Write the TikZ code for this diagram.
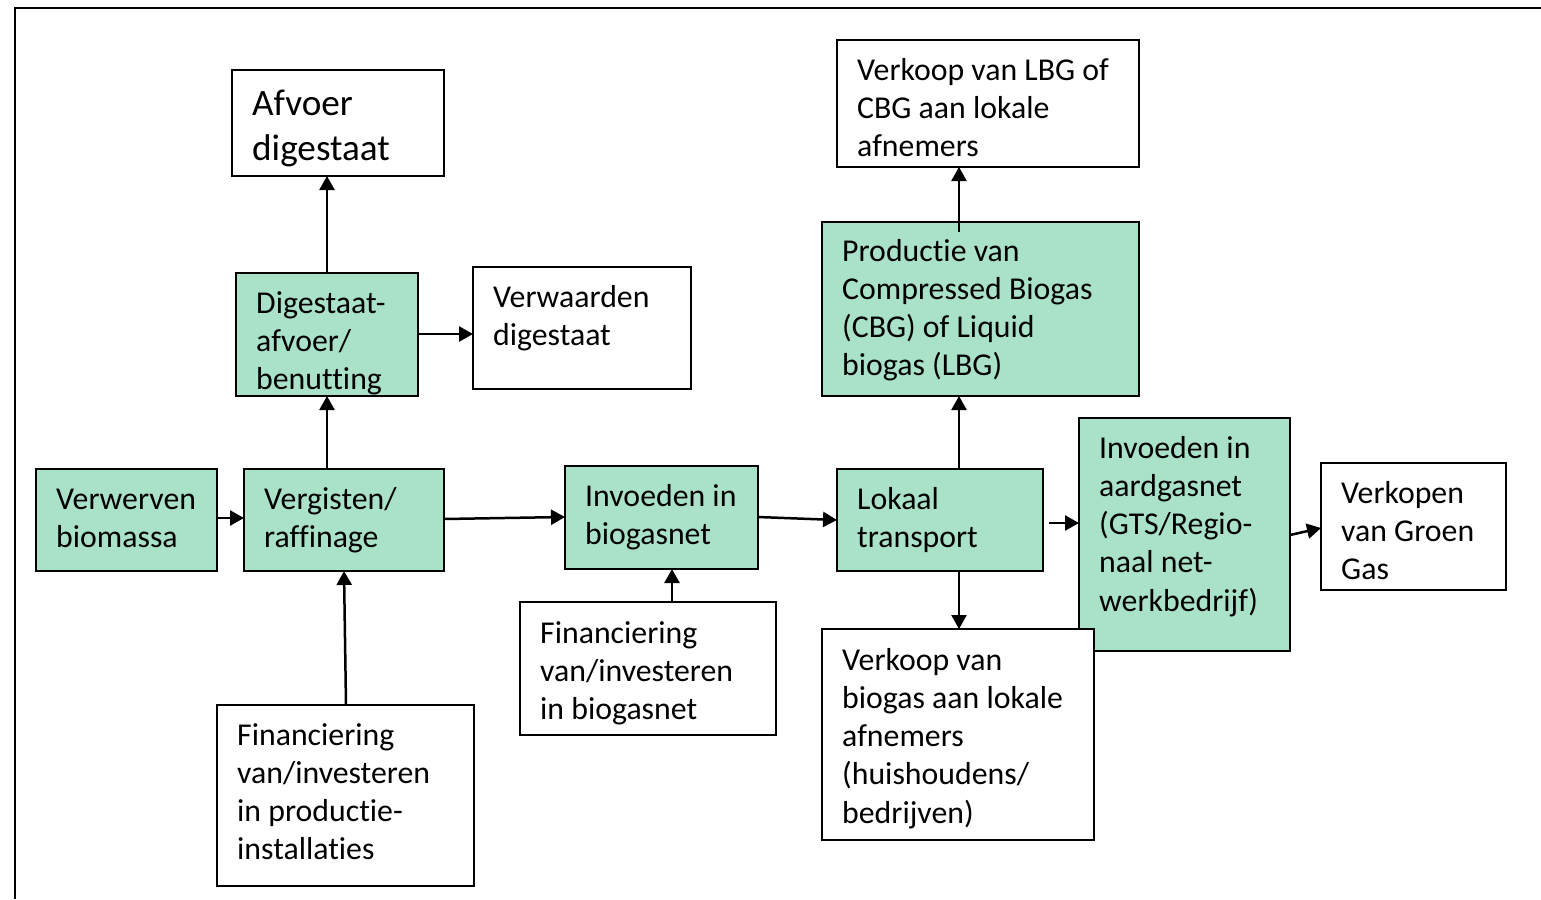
\documentclass[tikz,border=0pt]{standalone}
\usepackage{fontspec}
\setmainfont{Carlito}[Ligatures={NoCommon,TeX}]
\usetikzlibrary{arrows.meta,calc}
\definecolor{mint}{RGB}{170,226,201}
\tikzset{
  bx/.style={draw=black, line width=2pt, inner sep=0pt, outer sep=0pt, anchor=north west},
  gbx/.style={bx, fill=mint},
  wbx/.style={bx, fill=white},
  txt/.style={anchor=base west, inner sep=0pt, font=\fontsize{31.8}{38.3}\selectfont},
  bigtxt/.style={anchor=base west, inner sep=0pt, font=\fontsize{37.2}{45}\selectfont},
  arr/.style={line width=2.5pt, -{Triangle[length=14pt,width=15pt]}},
  frame/.style={line width=2pt}
}
\newcommand\lines[1]{\parbox[t]{400pt}{\raggedright #1}}
\begin{document}
\begin{tikzpicture}[x=1pt,y=-1pt]
\useasboundingbox (0,0) rectangle (1541,899);
\fill[white] (0,0) rectangle (1541,899);
% frame
\coordinate (ftl) at (15,8);
\coordinate (ftr) at (1541,8);
\coordinate (fbl) at (15,899);
\draw[frame] (14,8) -- (ftr);
\draw[frame] (ftl) -- (fbl);

% boxes
\node[wbx, minimum width=212, minimum height=106] (afv) at (232,70) {};
\node[gbx, minimum width=182, minimum height=123] (dig) at (236,273) {};
\node[wbx, minimum width=218, minimum height=122] (verw) at (473,267) {};
\node[wbx, minimum width=302, minimum height=127] (lbg) at (837,40) {};
\node[gbx, minimum width=317, minimum height=174] (prod) at (822,222) {};
\node[gbx, minimum width=181, minimum height=102] (bio) at (36,469) {};
\node[gbx, minimum width=200, minimum height=102] (verg) at (244,469) {};
\node[gbx, minimum width=193, minimum height=103] (invb) at (565,466) {};
\node[gbx, minimum width=206, minimum height=102] (lok) at (837,469) {};
\node[gbx, minimum width=211, minimum height=233] (aard) at (1079,418) {};
\node[wbx, minimum width=185, minimum height=127] (groen) at (1321,463) {};
\node[wbx, minimum width=256, minimum height=133] (finb) at (520,602) {};
\node[wbx, minimum width=272, minimum height=211] (verkb) at (822,629) {};
\node[wbx, minimum width=257, minimum height=181] (finp) at (217,705) {};

% texts
\node[bigtxt] (afvt) at ($(afv.north west)+(20,45)$) {\lines{Afvoer\\digestaat}};
\node[txt] (digt) at ($(dig.north west)+(20,40)$) {\lines{Digestaat-\\afvoer/\\benutting}};
\node[txt] (verwt) at ($(verw.north west)+(20,40)$) {\lines{Verwaarden\\digestaat}};
\node[txt] (lbgt) at ($(lbg.north west)+(20,40)$) {\lines{Verkoop van LBG of\\CBG aan lokale\\afnemers}};
\node[txt] (prodt) at ($(prod.north west)+(20,39)$) {\lines{Productie van\\Compressed Biogas\\(CBG) of Liquid\\biogas (LBG)}};
\node[txt] (biot) at ($(bio.north west)+(20,40)$) {\lines{Verwerven\\biomassa}};
\node[txt] (vergt) at ($(verg.north west)+(20,40)$) {\lines{Vergisten/\\raffinage}};
\node[txt] (invbt) at ($(invb.north west)+(20,40)$) {\lines{Invoeden in\\biogasnet}};
\node[txt] (lokt) at ($(lok.north west)+(20,40)$) {\lines{Lokaal\\transport}};
\node[txt] (aardt) at ($(aard.north west)+(20,40)$) {\lines{Invoeden in\\aardgasnet\\(GTS/Regio-\\naal net-\\werkbedrijf)}};
\node[txt] (groent) at ($(groen.north west)+(20,40)$) {\lines{Verkopen\\van Groen\\Gas}};
\node[txt] (finbt) at ($(finb.north west)+(20,41)$) {\lines{Financiering\\van/investeren\\in biogasnet}};
\node[txt] (verkbt) at ($(verkb.north west)+(20,41)$) {\lines{Verkoop van\\biogas aan lokale\\afnemers\\(huishoudens/\\bedrijven)}};
\node[txt] (finpt) at ($(finp.north west)+(20,40)$) {\lines{Financiering\\van/investeren\\in productie-\\installaties}};

% connectors
\coordinate (prodin) at ($(prod.north west)+(137,10)$);
\coordinate (lokout) at ($(lok.north east)+(6,54)$);
\draw[arr] ($(dig.north west)+(91,0)$) -- ($(afv.south west)+(95,0)$);
\draw[arr] ($(dig.north east)+(0,61)$) -- ($(verw.north west)+(0,67)$);
\draw[arr] ($(verg.north west)+(83,0)$) -- ($(dig.south west)+(91,0)$);
\draw[arr] ($(bio.north east)+(0,49)$) -- ($(verg.north west)+(0,49)$);
\draw[arr] ($(verg.north east)+(0,50)$) -- ($(invb.north west)+(0,51)$);
\draw[arr] ($(invb.north east)+(0,51)$) -- ($(lok.north west)+(0,51)$);
\draw[arr] ($(finp.north west)+(129,0)$) -- ($(verg.south west)+(100,0)$);
\draw[arr] ($(finb.north west)+(152,0)$) -- ($(invb.south west)+(107,0)$);
\draw[arr] ($(lok.north west)+(122,0)$) -- ($(prod.south west)+(137,0)$);
\draw[arr] (prodin) -- ($(lbg.south west)+(122,0)$);
\draw[arr] ($(lok.south west)+(122,0)$) -- ($(verkb.north west)+(137,0)$);
\draw[arr] (lokout) -- ($(aard.north west)+(0,105)$);
\draw[arr] ($(aard.north east)+(0,117)$) -- ($(groen.north west)+(0,65)$);
\end{tikzpicture}
\end{document}
